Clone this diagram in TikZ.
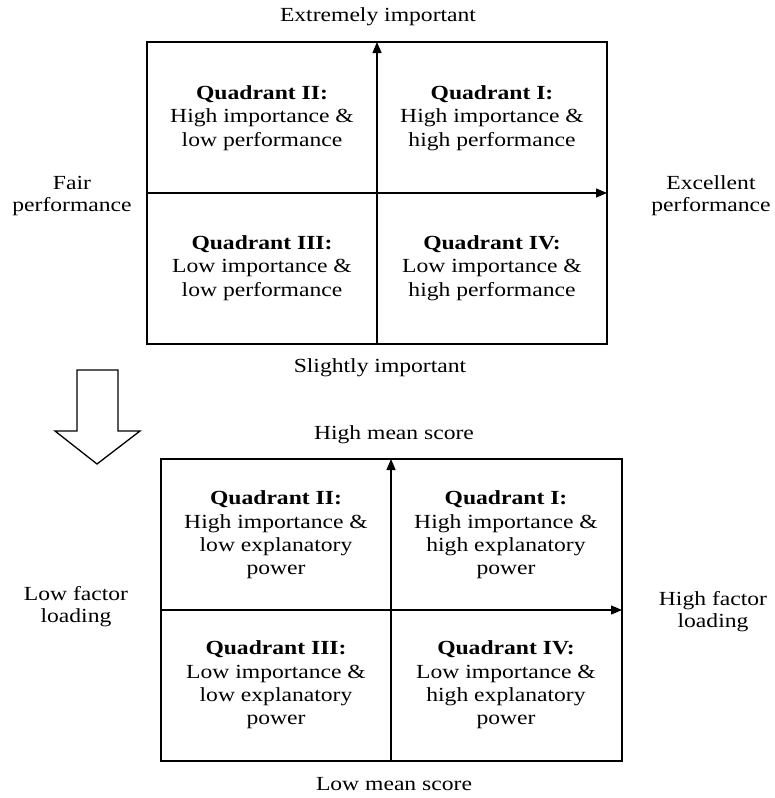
\documentclass[tikz,border=0pt]{standalone}
\usepackage{fontspec}
\setmainfont[FakeStretch=1.18]{Liberation Serif}
\usetikzlibrary{positioning,arrows.meta}

\begin{document}
\begin{tikzpicture}[
    x=1pt, y=-1pt,
    quad/.style={
        align=center,
        font=\fontsize{20}{23.3}\selectfont
    },
    axlabel/.style={
        align=center,
        font=\fontsize{20}{22}\selectfont
    },
    frame/.style={draw, line width=1.6pt},
    axis/.style={-{Triangle[length=11pt,width=9pt]}, line width=1.3pt}
]
\useasboundingbox (0,0) rectangle (775,798);

% importance-performance matrix
\coordinate (topul) at (147,42);
\coordinate (toplr) at (607,344);
\coordinate (topS) at (377,344);
\coordinate (topN) at (377,42);
\coordinate (topW) at (147,193);
\coordinate (topE) at (607,193);
\draw[frame] (topul) rectangle (toplr);
\draw[axis] (topS) -- (topN);
\draw[axis] (topW) -- (topE);

\node[quad] (tq2) at (262,118) {\textbf{Quadrant II:}\\High importance \&\\low performance};
\node[quad] (tq1) at (492,118) {\textbf{Quadrant I:}\\High importance \&\\high performance};
\node[quad] (tq3) at (262,268) {\textbf{Quadrant III:}\\Low importance \&\\low performance};
\node[quad] (tq4) at (492,268) {\textbf{Quadrant IV:}\\Low importance \&\\high performance};

\node[axlabel] (extreme) at (378,17) {Extremely important};
\node[axlabel] (slight) at (380,368) {Slightly important};
\node[axlabel] (fair) at (72,196) {Fair\\performance};
\node[axlabel] (excel) at (711,196) {Excellent\\performance};

% transition arrow
\draw[line width=1.3pt, fill=white] (77,370) -- (118,370) -- (118,431) -- (140,431)
    -- (97,464) -- (55,431) -- (77,431) -- cycle;

% mean score - factor loading matrix
\coordinate (botul) at (161,459);
\coordinate (botlr) at (622,761);
\coordinate (botS) at (391,761);
\coordinate (botN) at (391,459);
\coordinate (botW) at (161,610);
\coordinate (botE) at (622,610);
\draw[frame] (botul) rectangle (botlr);
\draw[axis] (botS) -- (botN);
\draw[axis] (botW) -- (botE);

\node[quad] (bq2) at (276,535) {\textbf{Quadrant II:}\\High importance \&\\low explanatory\\power};
\node[quad] (bq1) at (506,535) {\textbf{Quadrant I:}\\High importance \&\\high explanatory\\power};
\node[quad] (bq3) at (276,685) {\textbf{Quadrant III:}\\Low importance \&\\low explanatory\\power};
\node[quad] (bq4) at (506,685) {\textbf{Quadrant IV:}\\Low importance \&\\high explanatory\\power};

\node[axlabel] (highmean) at (394,435) {High mean score};
\node[axlabel] (lowmean) at (394,784) {Low mean score};
\node[axlabel] (lowload) at (76,607) {Low factor\\loading};
\node[axlabel] (highload) at (713,612) {High factor\\loading};

\end{tikzpicture}
\end{document}
